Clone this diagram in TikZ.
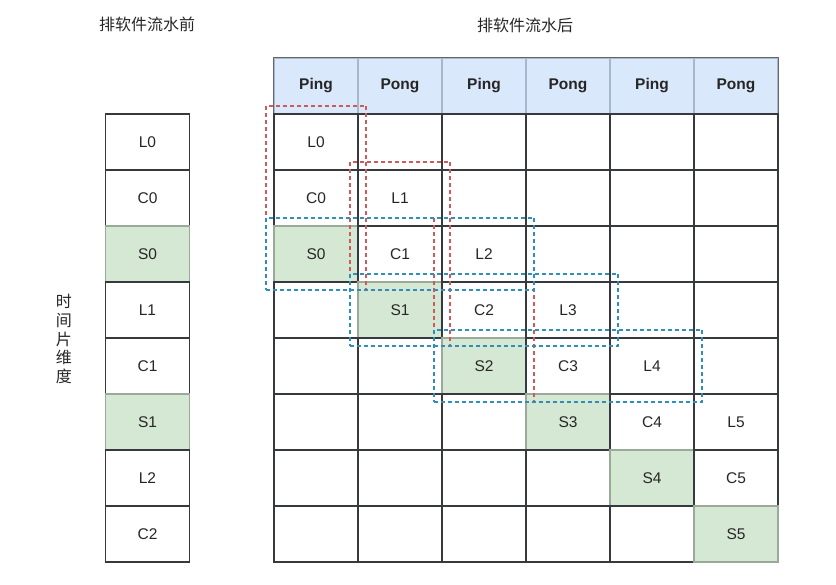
\documentclass[tikz,border=0pt]{standalone}
\usepackage{fontspec}
\setmainfont{Liberation Sans}
\newfontfamily\cjk{Noto Sans CJK SC}
\usetikzlibrary{fit}
\definecolor{cellline}{HTML}{36393D}
\definecolor{pingfill}{HTML}{DAE8FC}
\definecolor{pingline}{HTML}{A8B8CC}
\definecolor{stagefill}{HTML}{D5E8D4}
\definecolor{stageline}{HTML}{9AAA98}
\definecolor{loadbox}{HTML}{CF5A5A}
\definecolor{rowbox}{HTML}{2F8EBC}
\tikzset{
  cell/.style={draw=cellline, line width=1.2pt, minimum width=84pt, minimum height=56pt,
    inner sep=0pt, font=\fontsize{15.5}{18}\selectfont, text=black!85},
  storecell/.style={cell, fill=stagefill, draw=stageline},
  headcell/.style={cell, fill=pingfill, draw=pingline, font=\fontsize{15.5}{18}\selectfont\bfseries},
  stagebox/.style={draw=loadbox, dash pattern=on 4pt off 3pt, line width=1.4pt, inner sep=7.5pt},
  slotbox/.style={stagebox, draw=rowbox},
  title/.style={font=\cjk\fontsize{16}{18.7}\selectfont, text=black!85}
}
\begin{document}
\begin{tikzpicture}[x=1pt,y=-1pt]
\useasboundingbox (0,0) rectangle (836,585);
\fill[white] (0,0) rectangle (836,585);

% titles
\node[title] (before) at (147,24) {排软件流水前};
\node[title] (after) at (525,25) {排软件流水后};
\node[title, align=center] (axis) at (64,339) {时\\间\\片\\维\\度};

% before: one slot after another
\foreach \t/\s [count=\i from 0] in {L0/cell,C0/cell,S0/storecell,L1/cell,C1/cell,S1/storecell,L2/cell,C2/cell}
  \node[\s] (s-\i) at (147.5,{142+56*\i}) {\t};

% after: ping-pong buffers
\foreach \h [count=\c from 0] in {Ping,Pong,Ping,Pong,Ping,Pong}
  \node[headcell] (h-\c) at ({316+84*\c},86) {\h};
\draw[gray!80!black, line width=1.2pt] (h-0.north west) rectangle (h-5.south east);

\foreach \r in {0,...,7}
  \foreach \c in {0,...,5} {
    \pgfmathtruncatemacro\k{\r-\c}
    \ifcase\k
      \node[cell] (g-\r-\c) at ({316+84*\c},{142+56*\r}) {L\c};
    \or
      \node[cell] (g-\r-\c) at ({316+84*\c},{142+56*\r}) {C\c};
    \or
      \node[storecell] (g-\r-\c) at ({316+84*\c},{142+56*\r}) {S\c};
    \else
      \node[cell] (g-\r-\c) at ({316+84*\c},{142+56*\r}) {};
    \fi
  }

% one buffer through its stages
\foreach \c in {0,1,2} {
  \pgfmathtruncatemacro\e{\c+2}
  \node[stagebox, fit=(g-\c-\c)(g-\e-\c)] (load-\c) {};
}
% one time slot
\foreach \r [count=\c from 0] in {2,3,4} {
  \pgfmathtruncatemacro\e{\c+2}
  \node[slotbox, fit=(g-\r-\c)(g-\r-\e)] (slot-\r) {};
}
\end{tikzpicture}
\end{document}
